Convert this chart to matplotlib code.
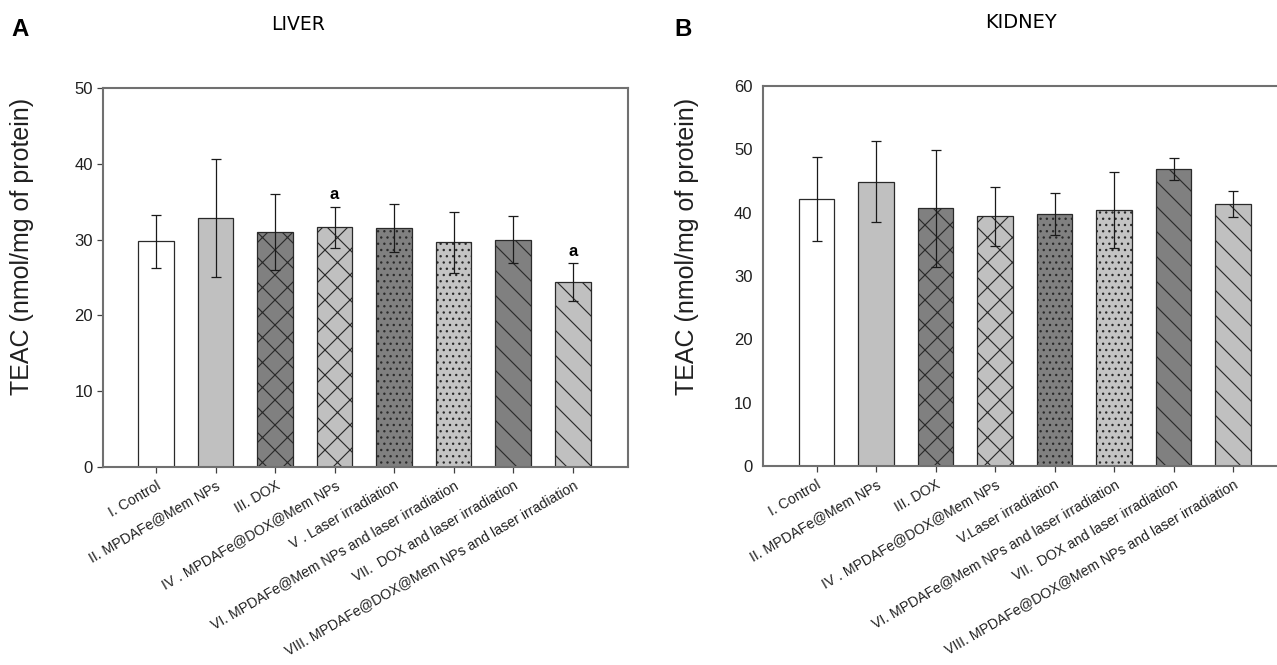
import numpy as np
import matplotlib
matplotlib.use('Agg')
import matplotlib.pyplot as plt

# TEAC values (nmol/mg of protein)
liver_labels = ['I. Control', 'II. MPDAFe@Mem NPs', 'III. DOX',
                'IV . MPDAFe@DOX@Mem NPs', 'V . Laser irradiation',
                'VI. MPDAFe@Mem NPs and laser irradiation',
                'VII.  DOX and laser irradiation',
                'VIII. MPDAFe@DOX@Mem NPs and laser irradiation']
kidney_labels = ['I. Control', 'II. MPDAFe@Mem NPs', 'III. DOX',
                 'IV . MPDAFe@DOX@Mem NPs', 'V.Laser irradiation',
                 'VI. MPDAFe@Mem NPs and laser irradiation',
                 'VII.  DOX and laser irradiation',
                 'VIII. MPDAFe@DOX@Mem NPs and laser irradiation']

liver_mean = [29.75, 32.85, 30.95, 31.65, 31.55, 29.65, 30.0, 24.4]
liver_err = [3.45, 7.8, 5.0, 2.7, 3.2, 4.0, 3.05, 2.5]
liver_marks = ['', '', '', 'a', '', '', '', 'a']

kidney_mean = [42.2, 44.9, 40.7, 39.4, 39.8, 40.4, 46.9, 41.4]
kidney_err = [6.6, 6.4, 9.2, 4.7, 3.3, 6.0, 1.7, 2.1]

fills = ['white', '#c0c0c0', '#808080', '#c0c0c0',
         '#808080', '#c4c4c4', '#808080', '#c0c0c0']
hatches = ['', '', 'xx', 'xx', '....', '....', '\\\\', '\\\\']

plt.rcParams['hatch.linewidth'] = 0.55
plt.rcParams['font.family'] = ['Liberation Sans', 'DejaVu Sans']

DPI = 150
fig = plt.figure(figsize=(1277 / DPI, 665 / DPI), dpi=DPI)


def draw_panel(ax, means, errs, labels, ymax, marks=None, yticks_len=3.0):
    x = np.arange(len(means))
    ax.bar(x, means, width=0.6, color=fills, hatch=hatches,
           edgecolor='#2a2a2a', linewidth=0.6, zorder=2)
    ax.errorbar(x, means, yerr=errs, fmt='none', ecolor='#1a1a1a',
                elinewidth=0.6, capsize=2.6, capthick=0.6, zorder=3)
    if marks:
        for xi, m, e, mk in zip(x, means, errs, marks):
            if mk:
                ax.text(xi, m + e + 0.6, mk, ha='center', va='bottom',
                        fontsize=8, fontweight='bold')
    ax.set_xlim(-0.9, 7.93)
    ax.set_ylim(0, ymax)
    ax.set_yticks(np.arange(0, ymax + 1, 10))
    ax.set_xticks(x)
    ax.set_xticklabels(labels, rotation=30, ha='right',
                       rotation_mode='anchor', fontsize=6.8, color='#202020')
    ax.tick_params(axis='x', length=3, width=0.6, color='#404040', pad=2.5)
    ax.tick_params(axis='y', length=yticks_len, width=0.6, color='#404040',
                   labelsize=8, labelcolor='#202020',
                   pad=1.5 if yticks_len else 5)
    for sp in ax.spines.values():
        sp.set_color('#707070')
        sp.set_linewidth(1.0)


ax1 = fig.add_axes([102.5 / 1277, 198 / 665, 525.5 / 1277, 379 / 665])
draw_panel(ax1, liver_mean, liver_err, liver_labels, 50, marks=liver_marks)

ax2 = fig.add_axes([763 / 1277, 199 / 665, 525.5 / 1277, 380 / 665])
draw_panel(ax2, kidney_mean, kidney_err, kidney_labels, 60, yticks_len=0)

# axis labels, panel titles and letters
for xp in (22, 687):
    fig.text(xp / 1277, 1 - 246 / 665, 'TEAC (nmol/mg of protein)',
             rotation=90, ha='center', va='center', fontsize=12, color='#202020')
fig.text(298 / 1277, 1 - 25 / 665, 'LIVER', ha='center', va='center',
         fontsize=9, family='DejaVu Sans')
fig.text(1021 / 1277, 1 - 23 / 665, 'KIDNEY', ha='center', va='center',
         fontsize=9.3, family='DejaVu Sans')
fig.text(20 / 1277, 1 - 30 / 665, 'A', ha='center', va='center',
         fontsize=11.5, fontweight='bold')
fig.text(683 / 1277, 1 - 30 / 665, 'B', ha='center', va='center',
         fontsize=11.5, fontweight='bold')

fig.savefig('out.png', dpi=DPI)
